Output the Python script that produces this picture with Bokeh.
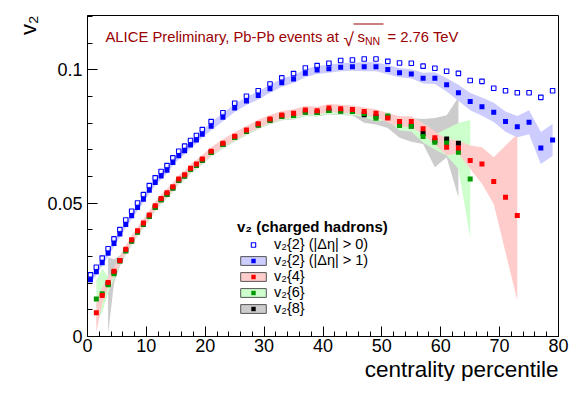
from bokeh.plotting import figure
from bokeh.models import (FixedTicker, Label, Legend, LegendItem, ColumnDataSource,
                          BoxAnnotation, Range1d, Title)
from bokeh.embed import file_html
from bokeh.resources import INLINE

# ---------------- data ----------------
cent_v22 = [0.5, 1.5, 2.5, 3.5, 4.5, 5.5, 6.5, 7.5, 8.5, 9.5,
            10.5, 11.5, 12.5, 13.5, 14.5, 15.5, 16.5, 17.5, 18.5, 19.5,
            21, 23, 25, 27, 29, 31, 33, 35, 37, 39, 41, 43, 45, 47, 49,
            51, 53, 55, 57, 59, 61, 63, 65, 67, 69, 71, 73, 75, 77, 79]
v22_gap0 = [0.0231, 0.0260, 0.0294, 0.0329, 0.0366, 0.0401, 0.0437, 0.0470, 0.0501, 0.0532,
            0.0566, 0.0595, 0.0619, 0.0641, 0.0670, 0.0695, 0.0714, 0.0735, 0.0754, 0.0776,
            0.0806, 0.0839, 0.0875, 0.0901, 0.0922, 0.0947, 0.0970, 0.0986, 0.1007, 0.1016,
            0.1025, 0.1035, 0.1037, 0.1041, 0.1041, 0.1032, 0.1026, 0.1025, 0.1014, 0.1006,
            0.0995, 0.0987, 0.0960, 0.0957, 0.0931, 0.0922, 0.0914, 0.0914, 0.0897, 0.0922]
v22_gap1 = [0.0213, 0.0243, 0.0277, 0.0312, 0.0349, 0.0384, 0.0420, 0.0453, 0.0484, 0.0515,
            0.0549, 0.0578, 0.0602, 0.0624, 0.0653, 0.0678, 0.0697, 0.0718, 0.0737, 0.0759,
            0.0789, 0.0822, 0.0857, 0.0883, 0.0904, 0.0929, 0.0952, 0.0966, 0.0987, 0.1000,
            0.1004, 0.1010, 0.1012, 0.1012, 0.1012, 0.1001, 0.0989, 0.0985, 0.0969, 0.0969,
            0.0944, 0.0914, 0.0881, 0.0862, 0.0841, 0.0806, 0.0787, 0.0804, 0.0707, 0.0737]
v22_gap1_sys = [0.0012] * 10 + [0.0013] * 10 + [0.0015] * 13 + [0.0017] * 5 + \
               [0.0020, 0.0022, 0.0025, 0.0030, 0.0032, 0.0034, 0.0036, 0.0038, 0.0040,
                0.0045, 0.0060, 0.0060]

cent_v24 = [1.5, 2.5, 3.5, 4.5, 5.5, 6.5, 7.5, 8.5, 9.5, 10.5, 11.5, 12.5, 13.5, 14.5,
            15.5, 16.5, 17.5, 18.5, 19.5, 21, 23, 25, 27, 29, 31, 33, 35, 37, 39, 41, 43,
            45, 47, 49, 51, 53, 55, 57, 59, 61, 63, 65, 67, 69, 71, 73]
v24 = [0.0089, 0.0154, 0.0203, 0.0245, 0.0285, 0.0327, 0.0363, 0.0397, 0.0426, 0.0456,
       0.0490, 0.0518, 0.0539, 0.0562, 0.0591, 0.0607, 0.0631, 0.0647, 0.0666, 0.0695,
       0.0725, 0.0751, 0.0775, 0.0798, 0.0816, 0.0831, 0.0837, 0.0850, 0.0847, 0.0857,
       0.0854, 0.0851, 0.0844, 0.0837, 0.0820, 0.0806, 0.0806, 0.0779, 0.0745, 0.0710,
       0.0707, 0.0660, 0.0647, 0.0581, 0.0522, 0.0454]
v24_sys_up = [0.0034, 0.0030, 0.0020] + [0.0015] * 31 + \
             [0.0017, 0.0020, 0.0020, 0.0022, 0.0025, 0.0030, 0.0028, 0.0056, 0.0063,
              0.0091, 0.0194, 0.0306]
v24_sys_dn = [0.0073, 0.0030, 0.0020] + [0.0015] * 31 + \
             [0.0017, 0.0020, 0.0020, 0.0022, 0.0025, 0.0030, 0.0021, 0.0031, 0.0074,
              0.0084, 0.0206, 0.0319]

cent_v26 = [1.5, 2.5, 3.5, 4.5, 5.5, 6.5, 7.5, 8.5, 9.5, 10.5, 11.5, 12.5, 13.5, 14.5,
            15.5, 16.5, 17.5, 18.5, 19.5, 21, 23, 25, 27, 29, 31, 33, 35, 37, 39, 41, 43,
            45, 47, 49, 51, 53, 55, 57, 59, 61, 63, 65]
v26 = [0.0141, 0.0160, 0.0194, 0.0235, 0.0283, 0.0322, 0.0358, 0.0392, 0.0421, 0.0451,
       0.0485, 0.0513, 0.0534, 0.0557, 0.0586, 0.0602, 0.0626, 0.0642, 0.0661, 0.0690,
       0.0720, 0.0746, 0.0770, 0.0793, 0.0811, 0.0826, 0.0829, 0.0842, 0.0840, 0.0848,
       0.0846, 0.0844, 0.0836, 0.0819, 0.0827, 0.0791, 0.0789, 0.0750, 0.0729, 0.0726,
       0.0691, 0.0591]
v26_sys_up = [0.0069, 0.0094, 0.0030, 0.0020] + [0.0013] * 30 + \
             [0.0015, 0.0018, 0.0020, 0.0022, 0.0028, 0.0053, 0.0110, 0.0221]
v26_sys_dn = [0.0081, 0.0070, 0.0030, 0.0020] + [0.0013] * 30 + \
             [0.0015, 0.0018, 0.0020, 0.0022, 0.0028, 0.0047, 0.0062, 0.0219]

cent_v28 = [3.5, 4.5, 5.5, 6.5, 7.5, 8.5, 9.5, 10.5, 11.5, 12.5, 13.5, 14.5,
            15.5, 16.5, 17.5, 18.5, 19.5, 21, 23, 25, 27, 29, 31, 33, 35, 37, 39, 41, 43,
            45, 47, 49, 51, 53, 55, 57, 59, 61, 63]
v28 = [0.0198, 0.0240, 0.0284, 0.0322, 0.0358, 0.0392, 0.0421, 0.0451,
       0.0485, 0.0513, 0.0534, 0.0557, 0.0586, 0.0602, 0.0626, 0.0642, 0.0661, 0.0690,
       0.0720, 0.0746, 0.0770, 0.0793, 0.0811, 0.0826, 0.0829, 0.0842, 0.0840, 0.0848,
       0.0846, 0.0844, 0.0832, 0.0825, 0.0822, 0.0795, 0.0790, 0.0762, 0.0735, 0.0741,
       0.0725]
v28_sys_up = [0.0099, 0.0050, 0.0020] + [0.0015] * 27 + \
             [0.0015, 0.0015, 0.0015, 0.0020, 0.0030, 0.0054, 0.0085, 0.0089, 0.0172]
v28_sys_dn = [0.0188, 0.0040, 0.0020] + [0.0015] * 27 + \
             [0.0030, 0.0030, 0.0040, 0.0050, 0.0060, 0.0040, 0.0100, 0.0069, 0.0203]

x_ticks = [0, 10, 20, 30, 40, 50, 60, 70, 80]
y_ticks = [0, 0.05, 0.1]
y_tick_labels = {0: "0", 0.05: "0.05", 0.1: "0.1"}

# ---------------- styling ----------------
FONT = "Liberation Sans"
X0, X1, Y0, Y1 = 0, 80, 0, 0.1204
FW, FH, FL, FT = 471, 321, 87, 15  # frame size and offsets (page px)


def px_x(px):  # page pixel -> data x (for annotations)
    return X0 + (px - FL) / FW * (X1 - X0)


def px_y(py):  # page pixel -> data y (for annotations)
    return Y0 + (FT + FH - py) / FH * (Y1 - Y0)


def band(cent, v, up, dn):
    return ColumnDataSource(dict(x=cent, lo=[a - b for a, b in zip(v, dn)],
                                 hi=[a + b for a, b in zip(v, up)]))


p = figure(frame_width=FW, frame_height=FH, x_range=Range1d(X0, X1), y_range=Range1d(Y0, Y1),
           output_backend="svg", toolbar_location=None,
           min_border_left=FL, min_border_right=16,
           min_border_top=FT, min_border_bottom=40)
p.xgrid.visible = False
p.ygrid.visible = False
p.outline_line_color = "black"
p.outline_line_width = 1
p.background_fill_color = "white"
p.border_fill_color = "white"

C_BLUE_BAND, C_RED_BAND, C_GREEN_BAND, C_GRAY_BAND = "#CCCCFF", "#FFCCCC", "#CCFFCC", "#CCCCCC"

# bands (gray below green below pink)
p.varea(x="x", y1="lo", y2="hi", source=band(cent_v28, v28, v28_sys_up, v28_sys_dn),
        fill_color=C_GRAY_BAND)
p.varea(x="x", y1="lo", y2="hi", source=band(cent_v26, v26, v26_sys_up, v26_sys_dn),
        fill_color=C_GREEN_BAND)
p.varea(x="x", y1="lo", y2="hi", source=band(cent_v24, v24, v24_sys_up, v24_sys_dn),
        fill_color=C_RED_BAND)
p.varea(x="x", y1="lo", y2="hi",
        source=band(cent_v22, v22_gap1, v22_gap1_sys, v22_gap1_sys),
        fill_color=C_BLUE_BAND)

MS = 5
r_v28 = p.scatter(cent_v28, v28, marker="square", size=MS, fill_color="black", line_color=None)
r_v26 = p.scatter(cent_v26, v26, marker="square", size=MS, fill_color="#009900", line_color=None)
r_v24 = p.scatter(cent_v24, v24, marker="square", size=MS, fill_color="#FF0000", line_color=None)
r_open = p.scatter(cent_v22, v22_gap0, marker="square", size=4.5, fill_color=None,
                   line_color="#0000FF", line_width=1.1)
r_gap1 = p.scatter(cent_v22, v22_gap1, marker="square", size=MS, fill_color="#0000FF",
                   line_color=None)

NAN = float("nan")


# legend-only box renderers (placeholder row that is never drawn in the plot)
def legend_box(color):
    return p.quad(left=[NAN], right=[NAN], top=[NAN], bottom=[NAN], fill_color=color,
                  line_color="#555555", line_width=1)


q_blue = legend_box(C_BLUE_BAND)
q_red = legend_box(C_RED_BAND)
q_green = legend_box(C_GREEN_BAND)
q_gray = legend_box(C_GRAY_BAND)

legend = Legend(items=[
    LegendItem(label="v\u2082{2} (|\u0394\u03b7| > 0)", renderers=[r_open]),
    LegendItem(label="v\u2082{2} (|\u0394\u03b7| > 1)", renderers=[q_blue, r_gap1]),
    LegendItem(label="v\u2082{4}", renderers=[q_red, r_v24]),
    LegendItem(label="v\u2082{6}", renderers=[q_green, r_v26]),
    LegendItem(label="v\u2082{8}", renderers=[q_gray, r_v28]),
], location=(150, 20), title="v\u2082 (charged hadrons)")
legend.title_text_font = FONT
legend.title_text_font_style = "bold"
legend.title_text_font_size = "15px"
legend.title_text_color = "black"
legend.title_standoff = 1
legend.label_text_font = FONT
legend.label_text_font_size = "14.5px"
legend.label_text_color = "black"
legend.glyph_width = 32
legend.glyph_height = 11
legend.label_height = 16
legend.spacing = 0
legend.padding = 0
legend.margin = 0
legend.label_standoff = 5
legend.border_line_alpha = 0
legend.background_fill_alpha = 0
p.add_layout(legend)

# axes
for ax in (p.xaxis, p.yaxis):
    ax.major_tick_in = 10
    ax.major_tick_out = 0
    ax.minor_tick_in = 5
    ax.minor_tick_out = 0
    ax.major_label_text_font = FONT
    ax.major_label_text_font_size = "18px"
    ax.major_label_text_color = "black"
    ax.axis_line_color = "black"
    ax.major_tick_line_color = "black"
    ax.minor_tick_line_color = "black"
p.xaxis.major_label_standoff = 2
p.yaxis.major_label_standoff = 5

p.xaxis.ticker = FixedTicker(ticks=x_ticks, minor_ticks=list(range(X0, X1 + 1, 2)))
p.yaxis.ticker = FixedTicker(ticks=y_ticks, minor_ticks=[i / 100 for i in range(0, 13)])
p.yaxis.major_label_overrides = y_tick_labels

# axis titles
p.add_layout(Title(text="centrality percentile", align="right", text_font=FONT,
                   text_font_size="22.5px", text_font_style="normal", text_color="black",
                   standoff=0, offset=0), "below")
p.add_layout(Title(text="v\u2082", align="right", text_font=FONT,
                   text_font_size="22px", text_font_style="normal", text_color="black",
                   standoff=7, offset=0), "left")

# header text
TC = "#990000"
p.add_layout(Label(x=px_x(105), y=px_y(36), text="ALICE Preliminary, Pb-Pb events at",
                   text_align="left", text_baseline="alphabetic",
                   text_font=FONT, text_font_size="14.8px", text_color=TC))
p.add_layout(Label(x=px_x(343), y=px_y(39), text="\u221a",
                   text_align="left", text_baseline="alphabetic",
                   text_font=FONT, text_font_size="19px", text_color=TC))
p.add_layout(Label(x=px_x(357), y=px_y(36), text="s",
                   text_align="left", text_baseline="alphabetic",
                   text_font=FONT, text_font_size="15px", text_color=TC))
p.add_layout(Label(x=px_x(364.5), y=px_y(40), text="NN",
                   text_align="left", text_baseline="alphabetic",
                   text_font=FONT, text_font_size="10.5px", text_color=TC))
p.add_layout(Label(x=px_x(387), y=px_y(36), text="= 2.76 TeV",
                   text_align="left", text_baseline="alphabetic",
                   text_font=FONT, text_font_size="14.8px", text_color=TC))
p.add_layout(BoxAnnotation(left=px_x(353), right=px_x(383), top=px_y(23), bottom=px_y(24),
                           fill_color=TC, fill_alpha=1, line_color=None))

open("out.html", "w").write(file_html(p, INLINE))
